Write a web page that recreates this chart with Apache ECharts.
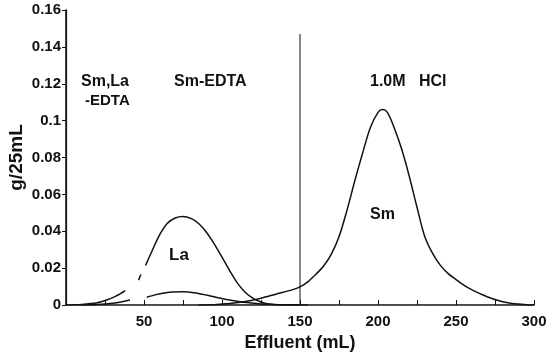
<!DOCTYPE html>
<html>
<head>
<meta charset="utf-8">
<script src="https://cdn.jsdelivr.net/npm/echarts@6/dist/echarts.min.js"></script>
<style>
  html, body { margin: 0; padding: 0; background: #fff; }
  #chart { width: 546px; height: 352px; }
</style>
</head>
<body>
<div id="chart"></div>
<script>
  // effluent (mL) vs g/25mL
  var laLeft = [[0, 0], [10, 0.0003], [20, 0.0012], [26, 0.0027], [32, 0.0048], [38, 0.0078]];
  var laDash = [[46.5, 0.0135], [48, 0.0165]];
  var laMain = [[51, 0.0215], [55, 0.029], [60, 0.038], [65, 0.0443], [70, 0.0472],
    [75, 0.048], [80, 0.047], [85, 0.0442], [90, 0.0395], [95, 0.0332], [100, 0.026],
    [105, 0.0185], [110, 0.0117], [115, 0.0068], [120, 0.0036], [125, 0.0016], [130, 0.0006],
    [140, 0.0001], [150, 0]];
  var smEdtaLeft = [[10, 0], [20, 0.0003], [30, 0.001], [36, 0.0018], [41, 0.0027]];
  var smEdtaMain = [[51.7, 0.0042], [57, 0.0055], [62, 0.0064], [68, 0.007], [75, 0.0072],
    [82, 0.0067], [90, 0.0054], [96, 0.0042], [102.8, 0.003], [110, 0.002], [115.8, 0.0013],
    [125, 0.0006], [133, 0.0003], [145, 0.0001], [155, 0]];
  var smHcl = [[85, 0], [95, 0.0002], [105, 0.0008], [115, 0.0019], [125, 0.0037], [135, 0.006],
    [145, 0.0082], [150, 0.0098], [155, 0.0125], [160, 0.0165], [165, 0.021], [170, 0.0275],
    [175, 0.037], [180, 0.051], [185, 0.067], [190, 0.082], [195, 0.096], [200, 0.1045],
    [203, 0.106], [206, 0.1045], [210, 0.097], [215, 0.085], [220, 0.07], [225, 0.053],
    [230, 0.037], [235, 0.028], [240, 0.0215], [245, 0.017], [250, 0.0138], [255, 0.0108],
    [260, 0.0083], [265, 0.0063], [270, 0.0045], [275, 0.003], [280, 0.0018], [285, 0.001],
    [290, 0.0005], [295, 0.0002], [300, 0]];
  var eluentChange = [[150, 0], [150, 0.147]];
  var xTicks = [50, 100, 150, 200, 250, 300];

  var chart = echarts.init(document.getElementById('chart'));
  var black = '#111';
  var font = 'Liberation Sans, Arial, sans-serif';

  function curve(data) {
    return {
      type: 'line',
      data: data,
      showSymbol: false,
      smooth: 0.3,
      silent: true,
      lineStyle: { color: black, width: 1.5 }
    };
  }

  var option = {
    animation: false,
    backgroundColor: '#fff',
    grid: { left: 66, right: 12, top: 10, bottom: 47, outerBoundsMode: 'none' },
    xAxis: [{
      type: 'value',
      min: 0,
      max: 300,
      interval: 25,
      name: 'Effluent (mL)',
      nameLocation: 'middle',
      nameGap: 29,
      nameTextStyle: { color: black, fontFamily: font, fontWeight: 'bold', fontSize: 18 },
      axisLine: { lineStyle: { color: black, width: 1.5 } },
      axisTick: { inside: true, length: 5, lineStyle: { color: black } },
      axisLabel: {
        color: black, fontFamily: font, fontWeight: 'bold', fontSize: 15, margin: 9,
        formatter: function (v) { return xTicks.indexOf(v) >= 0 ? String(v) : ''; }
      },
      splitLine: { show: false }
    }, {
      type: 'value',
      position: 'top',
      min: 0,
      max: 300,
      axisLine: { lineStyle: { color: '#555', width: 1, type: 'dashed' } },
      axisTick: { show: false },
      axisLabel: { show: false },
      splitLine: { show: false }
    }],
    yAxis: [{
      type: 'value',
      min: 0,
      max: 0.16,
      interval: 0.02,
      name: 'g/25mL',
      nameLocation: 'middle',
      nameGap: 40,
      nameMoveOverlap: false,
      nameTextStyle: { color: black, fontFamily: font, fontWeight: 'bold', fontSize: 19 },
      axisLine: { show: true, lineStyle: { color: black, width: 1.5 } },
      axisTick: { show: true, length: 4, lineStyle: { color: black } },
      axisLabel: {
        color: black, fontFamily: font, fontWeight: 'bold', fontSize: 15, margin: 5,
        formatter: function (v) { return String(parseFloat(v.toFixed(2))); }
      },
      splitLine: { show: false }
    }, {
      type: 'value',
      position: 'right',
      min: 0,
      max: 0.16,
      axisLine: { show: true, lineStyle: { color: black, width: 1.2 } },
      axisTick: { show: false },
      axisLabel: { show: false },
      splitLine: { show: false }
    }],
    series: [
      curve(laLeft),
      curve(laDash),
      curve(laMain),
      curve(smEdtaLeft),
      curve(smEdtaMain),
      curve(smHcl),
      {
        type: 'line',
        data: eluentChange,
        showSymbol: false,
        silent: true,
        lineStyle: { color: black, width: 1 }
      }
    ],
    graphic: [
      { type: 'text', left: 81, top: 74, style: { text: 'Sm,La', font: 'bold 16px ' + font, fill: black } },
      { type: 'text', left: 85, top: 93, style: { text: '-EDTA', font: 'bold 15px ' + font, fill: black } },
      { type: 'text', left: 174, top: 74, style: { text: 'Sm-EDTA', font: 'bold 16px ' + font, fill: black } },
      { type: 'text', left: 370, top: 74, style: { text: '1.0M   HCl', font: 'bold 16px ' + font, fill: black } },
      { type: 'text', left: 169, top: 247, style: { text: 'La', font: 'bold 17px ' + font, fill: black } },
      { type: 'text', left: 370, top: 207, style: { text: 'Sm', font: 'bold 16px ' + font, fill: black } }
    ]
  };

  chart.setOption(option);
</script>
</body>
</html>
